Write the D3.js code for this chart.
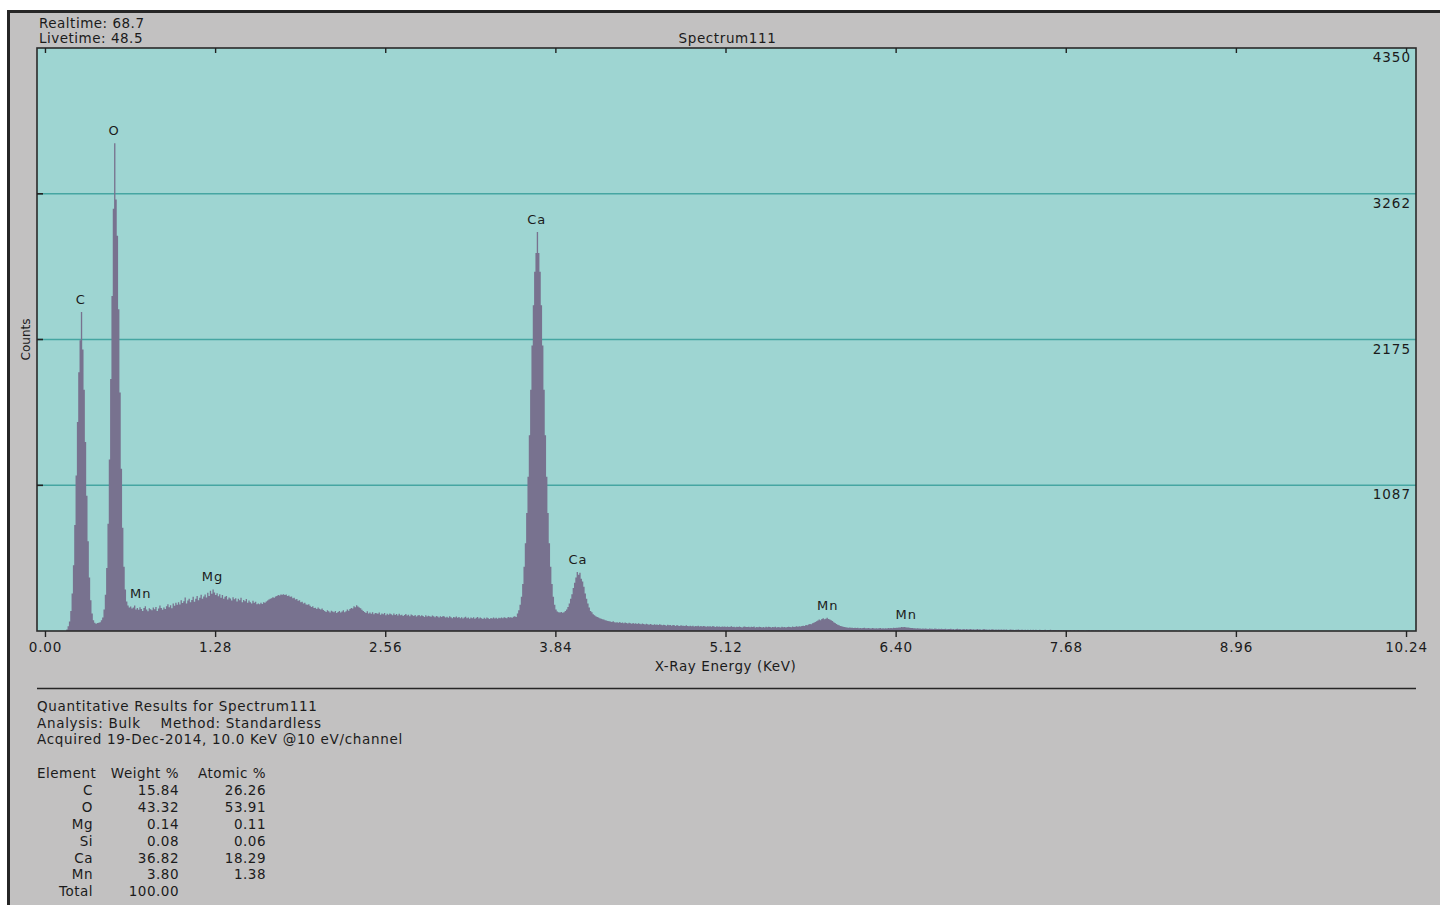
<!DOCTYPE html>
<html>
<head>
<meta charset="utf-8">
<title>Spectrum111</title>
<script src="https://cdn.jsdelivr.net/npm/d3@7"></script>
<style>
  html, body { margin: 0; padding: 0; background: #ffffff; }
  svg { display: block; }
  text { font-family: "DejaVu Sans", Verdana, sans-serif; fill: #1b1b1b; }
</style>
</head>
<body>
<svg id="chart" width="1440" height="905"></svg>
<script>
// ---- acquisition / header text ----
const spectrumName = "Spectrum111";
const acquisitionLines = ["Realtime: 68.7", "Livetime: 48.5"];
const resultLines = [
  "Quantitative Results for Spectrum111",
  "Analysis: Bulk    Method: Standardless",
  "Acquired 19-Dec-2014, 10.0 KeV @10 eV/channel"
];

// ---- spectrum: counts per 10 eV channel, starting at 0.00 keV ----
const channelWidth = 0.01; // keV
const counts = [
  // 0.00
  0,0,0,0,0,0,0,0,0,0,
  0,0,0,0,0,0,12,35,70,150,
  280,490,790,1160,1560,1930,2170,2380,2100,1800,
  1410,1010,670,400,230,130,80,62,55,60,
  62,66,80,100,160,270,470,800,1280,1880,
  2500,3150,3640,3220,2950,2400,1780,1210,770,480,
  310,220,190,175,182,168,176,190,160,172,
  158,178,165,150,172,185,160,148,170,163,
  155,175,162,180,150,168,190,172,158,176,
  165,185,200,178,192,170,205,188,210,195,
  // 1.00
  215,198,230,208,222,250,205,228,240,215,
  232,255,218,240,262,230,248,270,240,258,
  272,250,285,262,300,278,310,288,268,282,
  260,275,248,268,240,255,262,235,250,242,
  228,252,236,245,220,240,230,248,215,232,
  222,238,210,228,215,205,225,210,218,200,
  205,200,210,202,215,210,220,228,235,240,
  245,252,248,258,262,268,265,272,270,275,
  268,272,262,265,255,258,245,248,235,238,
  225,230,215,218,205,210,198,195,200,188,
  // 2.00
  180,184,172,174,164,176,166,160,168,156,
  150,142,155,148,138,152,145,140,150,135,
  142,150,138,145,155,140,148,160,152,165,
  172,168,185,178,192,182,175,170,158,150,
  142,135,148,130,138,128,140,125,135,132,
  128,138,122,130,125,135,118,128,122,130,
  125,118,130,120,126,115,128,118,122,112,
  120,126,115,122,110,124,118,112,120,108,
  115,120,110,118,112,105,118,108,114,110,
  106,115,110,102,112,108,100,110,104,112,
  // 3.00
  108,100,106,98,110,102,96,105,100,108,
  98,104,96,102,94,100,106,95,100,92,
  100,95,102,92,98,104,94,100,96,90,
  98,92,100,95,90,97,93,100,94,98,
  92,98,95,100,96,102,98,95,104,100,
  102,98,106,110,104,130,155,195,255,350,
  480,655,880,1150,1460,1800,2130,2430,2680,2820,
  2977,2820,2680,2430,2130,1800,1460,1150,880,655,
  480,350,255,195,160,145,140,138,142,136,
  140,150,160,180,205,240,275,320,360,400,
  // 4.00
  440,420,435,390,370,330,280,240,205,175,
  150,140,125,118,110,105,100,95,92,88,
  85,80,78,75,72,70,68,72,66,64,
  65,62,68,60,63,58,64,60,56,62,
  58,55,60,54,57,52,58,55,50,56,
  52,48,55,50,46,52,48,45,50,47,
  48,44,50,46,42,47,44,40,46,42,
  44,40,45,42,38,44,40,37,42,39,
  40,37,42,38,35,40,36,39,34,38,
  36,39,34,37,33,38,35,32,36,34,
  // 5.00
  35,32,37,33,30,35,32,34,30,33,
  31,34,30,33,29,32,35,30,32,28,
  32,29,33,30,27,31,34,29,30,32,
  28,31,29,33,27,30,28,32,29,27,
  30,27,31,28,32,29,26,30,28,31,
  27,30,28,26,31,28,30,27,29,32,
  30,28,33,29,31,35,32,36,34,38,
  40,38,44,42,48,52,50,58,62,68,
  72,78,85,80,90,96,88,92,98,90,
  86,80,74,66,60,52,46,42,38,35,
  // 6.00
  32,30,28,27,25,26,24,25,23,24,
  22,24,21,23,20,22,24,21,20,22,
  21,19,22,20,18,21,19,20,22,19,
  20,18,21,19,22,20,23,21,24,22,
  25,24,27,26,29,28,30,28,27,26,
  25,23,22,20,21,19,20,18,19,17,
  18,16,19,17,15,18,16,17,15,18,
  16,14,17,15,16,14,15,17,13,15,
  14,16,13,15,12,14,16,13,14,12,
  13,15,12,14,11,13,15,12,13,11,
  // 7.00
  12,14,11,13,10,12,14,11,12,10,
  12,10,13,11,9,12,10,11,9,12,
  10,12,9,11,8,10,12,9,10,8,
  10,9,11,8,10,9,7,10,8,9,
  8,10,7,9,8,10,7,8,9,7,
  8,7,9,6,8,7,9,6,8,7,
  7,6,8,6,7,5,8,6,7,5,
  6,7,5,6,8,5,6,7,5,6,
  5,6,4,6,5,7,4,5,6,4,
  5,4,6,4,5,3,5,4,6,4,
  // 8.00
  4,5,3,4,5,3,4,3,5,3,
  4,3,4,2,3,4,2,3,4,2,
  3,2,3,2,4,2,3,2,2,3,
  2,3,1,2,2,3,1,2,2,1,
  2,1,2,1,2,1,1,2,1,1,
  1,1,0,1,1,0,1,0,1,0
];

// ---- axes ----
const xDomain = [-0.06, 10.315];
const xTicks = [0.00, 1.28, 2.56, 3.84, 5.12, 6.40, 7.68, 8.96, 10.24];
const yMax = 4350;
const yTicks = [1087, 2175, 3262, 4350];
const xTitle = "X-Ray Energy (KeV)";
const yTitle = "Counts";

// ---- peak identification labels (keV where each label sits) ----
const peakElements = ["C", "O", "Mn", "Mg", "Ca", "Ca", "Mn", "Mn"];
const peakEnergies = [0.27, 0.52, 0.72, 1.26, 3.70, 4.01, 5.89, 6.48];

// ---- quantitative results ----
const tableHeader = ["Element", "Weight %", "Atomic %"];
const elements = ["C", "O", "Mg", "Si", "Ca", "Mn"];
const weightPct = [15.84, 43.32, 0.14, 0.08, 36.82, 3.80];
const atomicPct = [26.26, 53.91, 0.11, 0.06, 18.29, 1.38];

// ================= drawing =================
const svg = d3.select("#chart");
const W = 1440, H = 905;
const plot = { left: 37, right: 1416, top: 48, bottom: 631 };
const FS = 13.5;   // base font size of the report text

// window frame (continues past the right and bottom edges)
svg.append("rect")
  .attr("x", 8.5).attr("y", 11.5)
  .attr("width", W + 100).attr("height", H + 100)
  .attr("fill", "#c2c1c1")
  .attr("stroke", "#262626").attr("stroke-width", 3);

const x = d3.scaleLinear().domain(xDomain).range([plot.left, plot.right]);
const y = d3.scaleLinear().domain([0, yMax]).range([plot.bottom, plot.top]);

// plot background
svg.append("rect")
  .attr("x", plot.left).attr("y", plot.top)
  .attr("width", plot.right - plot.left).attr("height", plot.bottom - plot.top)
  .attr("fill", "#9ed5d2");

svg.append("clipPath").attr("id", "plotClip")
  .append("rect")
  .attr("x", plot.left).attr("y", plot.top)
  .attr("width", plot.right - plot.left).attr("height", plot.bottom - plot.top);

// horizontal grid
svg.append("g")
  .selectAll("line").data(yTicks.slice(0, -1)).join("line")
  .attr("x1", plot.left).attr("x2", plot.right)
  .attr("y1", d => y(d)).attr("y2", d => y(d))
  .attr("stroke", "#45a6a2").attr("stroke-width", 1.6);

// spectrum
const channels = counts.map((c, i) => ({ e: i * channelWidth, c }));
channels.push({ e: counts.length * channelWidth, c: 0 });
const area = d3.area()
  .x(d => x(d.e))
  .y0(y(0))
  .y1(d => y(d.c))
  .curve(d3.curveStepAfter);
svg.append("path")
  .datum(channels)
  .attr("clip-path", "url(#plotClip)")
  .attr("fill", "#78728f")
  .attr("d", area);

// peak labels, placed just above the local maximum
svg.append("g")
  .selectAll("text").data(peakEnergies).join("text")
  .attr("x", d => x(d))
  .attr("y", d => {
    const i0 = Math.max(0, Math.round((d - 0.03) / channelWidth));
    const i1 = Math.min(counts.length - 1, Math.round((d + 0.03) / channelWidth));
    const m = d3.max(counts.slice(i0, i1 + 1));
    return y(m) - 8;
  })
  .attr("text-anchor", "middle")
  .attr("font-size", 13)
  .attr("letter-spacing", 1)
  .text((d, i) => peakElements[i]);

// plot border
svg.append("rect")
  .attr("x", plot.left).attr("y", plot.top)
  .attr("width", plot.right - plot.left).attr("height", plot.bottom - plot.top)
  .attr("fill", "none").attr("stroke", "#2a2a2a").attr("stroke-width", 1.6);

// bottom axis
const xAxis = d3.axisBottom(x)
  .tickValues(xTicks)
  .tickFormat(d3.format(".2f"))
  .tickSize(6).tickPadding(5);
const gx = svg.append("g").attr("transform", `translate(0,${plot.bottom})`).call(xAxis);
gx.select(".domain").remove();
gx.selectAll(".tick line").attr("stroke", "#222").attr("stroke-width", 1.4);
gx.selectAll(".tick text")
  .attr("font-family", "DejaVu Sans, Verdana, sans-serif")
  .attr("font-size", FS).attr("letter-spacing", 0.8).attr("fill", "#1b1b1b");

// top ticks, pointing into the plot
const gxt = svg.append("g").attr("transform", `translate(0,${plot.top})`)
  .call(d3.axisTop(x).tickValues(xTicks).tickFormat("").tickSize(-5));
gxt.select(".domain").remove();
gxt.selectAll(".tick line").attr("stroke", "#222").attr("stroke-width", 1.4);

// left ticks at the grid lines
svg.append("g")
  .selectAll("line").data(yTicks.slice(0, -1)).join("line")
  .attr("x1", plot.left).attr("x2", plot.left + 6)
  .attr("y1", d => y(d)).attr("y2", d => y(d))
  .attr("stroke", "#222").attr("stroke-width", 1.6);

// count labels inside the right edge
svg.append("g")
  .selectAll("text").data(yTicks).join("text")
  .attr("x", plot.right - 5)
  .attr("y", d => y(d) + 14)
  .attr("text-anchor", "end")
  .attr("font-size", FS).attr("letter-spacing", 1)
  .text(d => d);

// axis titles
svg.append("text")
  .attr("x", (x(0) + x(10.24)) / 2).attr("y", 671)
  .attr("text-anchor", "middle")
  .attr("font-size", FS).attr("letter-spacing", 0.6)
  .text(xTitle);

svg.append("text")
  .attr("transform", `translate(30,${y(2175)}) rotate(-90)`)
  .attr("text-anchor", "middle")
  .attr("font-size", 12)
  .text(yTitle);

// header
svg.append("g")
  .selectAll("text").data(acquisitionLines).join("text")
  .attr("x", 39).attr("y", (d, i) => 28 + i * 15)
  .attr("font-size", FS).attr("letter-spacing", 0.5)
  .text(d => d);

svg.append("text")
  .attr("x", (x(0) + x(10.24)) / 2 + 2).attr("y", 43)
  .attr("text-anchor", "middle")
  .attr("font-size", FS).attr("letter-spacing", 0.6)
  .text(spectrumName);

// separator
svg.append("line")
  .attr("x1", plot.left).attr("x2", plot.right)
  .attr("y1", 688.5).attr("y2", 688.5)
  .attr("stroke", "#262626").attr("stroke-width", 1.6);

// results text
svg.append("g")
  .selectAll("text").data(resultLines).join("text")
  .attr("x", 37).attr("y", (d, i) => 711 + i * 16.5)
  .attr("font-size", FS).attr("letter-spacing", 0.7)
  .attr("xml:space", "preserve")
  .style("white-space", "pre")
  .text(d => d);

// results table
const rowY0 = 778, rowStep = 16.9;
const colRight = [93, 179, 266];
const tbl = svg.append("g").attr("font-size", FS).attr("letter-spacing", 0.5);
tbl.append("text").attr("x", 37).attr("y", rowY0).text(tableHeader[0]);
tbl.append("text").attr("x", colRight[1]).attr("y", rowY0).attr("text-anchor", "end").text(tableHeader[1]);
tbl.append("text").attr("x", colRight[2]).attr("y", rowY0).attr("text-anchor", "end").text(tableHeader[2]);

elements.forEach((el, i) => {
  const ry = rowY0 + (i + 1) * rowStep;
  tbl.append("text").attr("x", colRight[0]).attr("y", ry).attr("text-anchor", "end").text(el);
  tbl.append("text").attr("x", colRight[1]).attr("y", ry).attr("text-anchor", "end").text(weightPct[i].toFixed(2));
  tbl.append("text").attr("x", colRight[2]).attr("y", ry).attr("text-anchor", "end").text(atomicPct[i].toFixed(2));
});
const totalY = rowY0 + (elements.length + 1) * rowStep;
tbl.append("text").attr("x", colRight[0]).attr("y", totalY).attr("text-anchor", "end").text("Total");
tbl.append("text").attr("x", colRight[1]).attr("y", totalY).attr("text-anchor", "end")
  .text(d3.sum(weightPct).toFixed(2));
</script>
</body>
</html>
